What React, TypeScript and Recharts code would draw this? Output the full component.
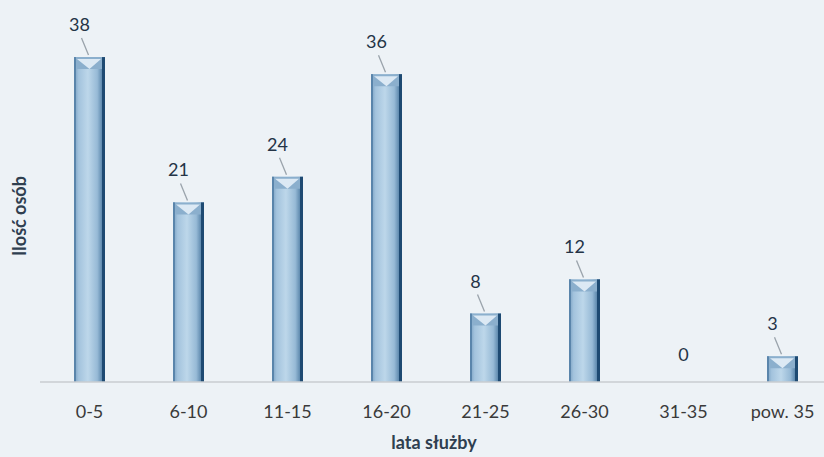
import { BarChart, Bar, XAxis, YAxis, LabelList } from "recharts";

const categories = ["0-5", "6-10", "11-15", "16-20", "21-25", "26-30", "31-35", "pow. 35"];
const counts = [38, 21, 24, 36, 8, 12, 0, 3];

const data = categories.map((name, i) => ({ name, value: counts[i] }));

const FONT = "Lato, 'Open Sans', sans-serif";

const CylinderBar = (props: any) => {
  const { x, y, width, height } = props;
  if (!height || height <= 0) return null;
  const bevel = Math.min(12, height / 2);
  return (
    <g>
      <rect x={x} y={y} width={width} height={height} fill="url(#barGrad)" />
      {/* top bevel: darker rim with a light V-shaped highlight */}
      <path
        d={`M${x},${y} L${x + width},${y} L${x + width - 3},${y + bevel} L${x + 3},${y + bevel} Z`}
        fill="#8bafcd"
      />
      <path
        d={`M${x + 3},${y + 2} L${x + width - 4},${y + 2} L${x + width / 2},${y + bevel} Z`}
        fill="#e4eff8"
        opacity={0.9}
      />
      <rect x={x} y={y} width={2} height={height} fill="#5a85ab" />
      <rect x={x + width - 3} y={y} width={3} height={height} fill="#1e4a72" />
    </g>
  );
};

const ValueLabel = (props: any) => {
  const { x, y, width, value } = props;
  const cx = x + width / 2;
  if (value === 0) {
    return (
      <text x={cx} y={y - 21} textAnchor="middle" fill="#243447" fontSize={18} fontFamily={FONT}>
        {value}
      </text>
    );
  }
  return (
    <g>
      <line x1={cx - 8} y1={y - 19} x2={cx - 1} y2={y - 2} stroke="#9aa3ab" strokeWidth={1.3} />
      <text x={cx - 10} y={y - 26} textAnchor="middle" fill="#243447" fontSize={18} fontFamily={FONT}>
        {value}
      </text>
    </g>
  );
};

export default function App() {
  return (
    <div
      style={{
        position: "absolute",
        left: 0,
        top: 0,
        width: 824,
        height: 457,
        overflow: "hidden",
        background: "#edf2f6",
      }}
    >
      <BarChart
        width={832}
        height={457}
        data={data}
        margin={{ top: 40, right: 0, bottom: 45, left: 40 }}
        barSize={31}
      >
        <defs>
          <linearGradient id="barGrad" x1="0" y1="0" x2="1" y2="0">
            <stop offset="0%" stopColor="#789fc1" />
            <stop offset="15%" stopColor="#a3c3dd" />
            <stop offset="45%" stopColor="#bdd7ea" />
            <stop offset="75%" stopColor="#97bad6" />
            <stop offset="100%" stopColor="#3a6a94" />
          </linearGradient>
        </defs>
        <XAxis
          dataKey="name"
          axisLine={{ stroke: "#c9cdd1", strokeWidth: 1.5 }}
          tickLine={false}
          tick={{ fill: "#3a3a3a", fontSize: 18, fontFamily: FONT }}
          tickMargin={17}
          interval={0}
        />
        <YAxis domain={[0, 40]} hide />
        <Bar dataKey="value" shape={<CylinderBar />} isAnimationActive={false}>
          <LabelList dataKey="value" content={<ValueLabel />} />
        </Bar>
        <text
          x={434}
          y={449}
          textAnchor="middle"
          fill="#2f3f50"
          fontSize={18}
          fontWeight="bold"
          fontFamily={FONT}
        >
          lata służby
        </text>
        <text
          x={26}
          y={216}
          textAnchor="middle"
          fill="#2f3f50"
          fontSize={18}
          fontWeight="bold"
          fontFamily={FONT}
          transform="rotate(-90 26 216)"
        >
          Ilość osób
        </text>
      </BarChart>
    </div>
  );
}
